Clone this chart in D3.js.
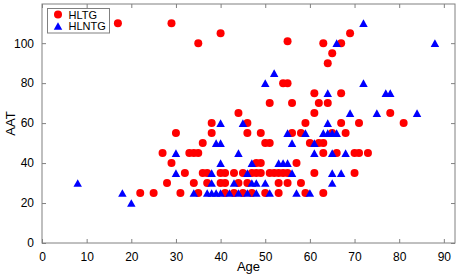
<!DOCTYPE html>
<html>
<head>
<meta charset="utf-8">
<script src="https://cdn.jsdelivr.net/npm/d3@7"></script>
<style>
  body { margin: 0; background: #fff; }
  text { font-family: "Liberation Sans", Arial, sans-serif; }
</style>
</head>
<body>
<div id="chart"></div>
<script>
let margin = ({top: 4, right: 4, bottom: 33, left: 42});
let width = 459 - margin.left - margin.right;
let height = 276 - margin.top - margin.bottom;

////////////////////////////////
//   Data
////////////////////////////////
let seriesNames = ["HLTG", "HLNTG"];
let xTicks = [0, 10, 20, 30, 40, 50, 60, 70, 80, 90];
let yTicks = [0, 20, 40, 60, 80, 100];

// HLTG (red circles): [Age, AAT]
let hltg = [
  [17,110],[29,110],[35,100],[40,105],[55,101],[63,100],[67,100],[69,105],[65,95],[64,90],
  [54,80],[55,80],[51,70],[56,70],[62,70],[64,70],[61,75],[67,75],
  [44,65],[61,65],[78,65],
  [38,60],[46,60],[59,60],[67,60],[71,60],[81,60],
  [30,55],[38,55],[46,55],[49,55],[56,55],[58,55],[65,55],[68,55],
  [36,50],[50,50],[51,50],[60,50],[62,50],[63,50],
  [27,45],[33,45],[34,45],[35,45],[63,45],[66,45],[70,45],[71,45],[73,45],
  [29,40],[48,40],[49,40],[57,40],
  [32,35],[36,35],[37,35],[40,35],[41,35],[43,35],[45,35],[47,35],[48,35],[49,35],
  [51,35],[52,35],[53,35],[54,35],[55,35],[61,35],[70,35],
  [28,30],[34,30],[37,30],[40,30],[41,30],[44,30],[46,30],[53,30],[55,30],[58,30],
  [22,25],[25,25],[31,25],[35,25],[41,25],[43,25],[45,25],[47,25],[50,25],[53,25],[59,25],[63,25]
];

// HLNTG (blue triangles): [Age, AAT]
let hlntg = [
  [8,30],[18,25],[20,20],[72,110],[66,100],[88,100],[52,85],[50,80],[72,80],
  [64,75],[77,75],[78,75],[69,65],[75,65],[84,65],
  [40,60],[45,60],[64,60],
  [55,55],[59,55],[63,55],[64,55],[65,55],[66,55],
  [39,50],[40,50],[56,50],[61,50],
  [30,45],[44,45],[61,45],[65,45],[68,45],
  [40,40],[47,40],[53,40],[54,40],[55,40],
  [30,35],[38,35],[46,35],[56,35],[65,35],[67,35],
  [38,30],[43,30],[47,30],[48,30],[50,30],[65,30],
  [34,25],[37,25],[38,25],[39,25],[40,25],[42,25],[44,25],[46,25],[48,25],[51,25],[57,25],[60,25]
];

let red = "#ff0000";
let blue = "#0000ff";
let axisColor = "#808080";

// triangle centred on its bounding box (matlab style '^')
let triangleUp = {
  draw: function(ctx, size) {
    let s = Math.sqrt(size);
    let h = s * 0.9;
    ctx.moveTo(0, -h / 2);
    ctx.lineTo(s / 2, h / 2);
    ctx.lineTo(-s / 2, h / 2);
    ctx.closePath();
  }
};

/////////////////////////////
//   Setup Chart Elements
/////////////////////////////
let svg = d3.select("#chart")
  .append("svg")
  .attr("width", 459)
  .attr("height", 276)
  .append("g")
  .attr("transform", "translate(" + margin.left + ", " + margin.top + ")");

let x = d3.scaleLinear().domain([0, 92.5]).range([0, width]);
let y = d3.scaleLinear().domain([0, 119.6]).range([height, 0]);

// axes with inward ticks on all four sides
let styleAxis = function(g) {
  g.select(".domain").remove();
  g.selectAll("line").attr("stroke", axisColor);
  g.selectAll("text").attr("fill", "#000").style("font-size", "12px")
    .style("font-family", "'Liberation Sans', Arial, sans-serif");
};

svg.append("g")
  .attr("transform", "translate(0," + height + ")")
  .call(d3.axisBottom(x).tickValues(xTicks).tickSize(-4).tickPadding(9).tickFormat(d3.format("d")))
  .call(styleAxis);

svg.append("g")
  .call(d3.axisTop(x).tickValues(xTicks).tickSize(-4).tickFormat(""))
  .call(styleAxis);

svg.append("g")
  .call(d3.axisLeft(y).tickValues(yTicks).tickSize(-4).tickPadding(8).tickFormat(d3.format("d")))
  .call(styleAxis);

svg.append("g")
  .attr("transform", "translate(" + width + ",0)")
  .call(d3.axisRight(y).tickValues(yTicks).tickSize(-4).tickFormat(""))
  .call(styleAxis);

svg.append("rect")
  .attr("x", 0).attr("y", 0)
  .attr("width", width).attr("height", height)
  .attr("fill", "none")
  .attr("stroke", axisColor)
  .attr("stroke-width", 1);

///////////////////////////
//   Drawing the points
///////////////////////////
svg.append("g")
  .selectAll("circle")
  .data(hltg)
  .enter()
  .append("circle")
    .attr("cx", function(d) { return x(d[0]); })
    .attr("cy", function(d) { return y(d[1]); })
    .attr("r", 4)
    .attr("fill", red);

svg.append("g")
  .selectAll("path")
  .data(hlntg)
  .enter()
  .append("path")
    .attr("transform", function(d) { return "translate(" + x(d[0]) + "," + y(d[1]) + ")"; })
    .attr("d", d3.symbol().type(triangleUp).size(72))
    .attr("fill", blue);

////////////////
//   Legend
////////////////
let legend = svg.append("g").attr("transform", "translate(5.5, 4.5)");
legend.append("rect")
  .attr("width", 62).attr("height", 24.5)
  .attr("fill", "#fff")
  .attr("stroke", axisColor);

legend.append("circle")
  .attr("cx", 10.5).attr("cy", 6)
  .attr("r", 4)
  .attr("fill", red);
legend.append("path")
  .attr("transform", "translate(10.5, 17.5)")
  .attr("d", d3.symbol().type(triangleUp).size(72))
  .attr("fill", blue);

legend.selectAll("text.lbl")
  .data(seriesNames)
  .enter()
  .append("text")
    .attr("class", "lbl")
    .attr("x", 21)
    .attr("y", function(d, i) { return 10 + i * 11.2; })
    .attr("font-size", "11px")
    .text(function(d) { return d; });

////////////////////
//   Axis Labels
////////////////////
svg.append("text")
  .attr("transform", "translate(" + (width / 2) + ", " + (height + 28) + ")")
  .style("text-anchor", "middle")
  .attr("font-size", "13px")
  .text("Age");

svg.append("text")
  .attr("transform", "rotate(-90)")
  .attr("x", -height / 2)
  .attr("y", -27)
  .attr("font-size", "13px")
  .style("text-anchor", "middle")
  .text("AAT");
</script>
</body>
</html>
